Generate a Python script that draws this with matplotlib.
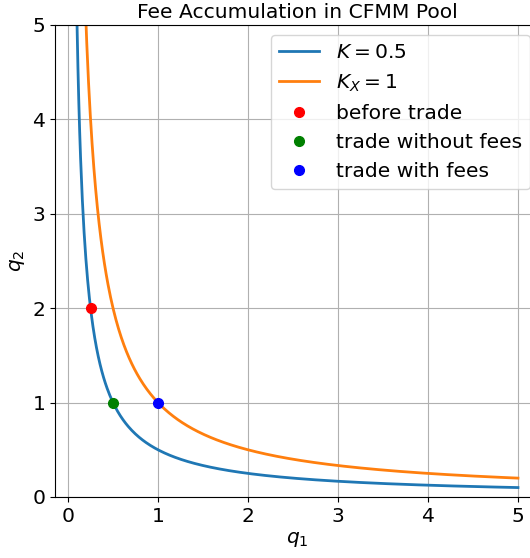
import numpy as np
import matplotlib
matplotlib.use("Agg")
import matplotlib.pyplot as plt

# data
K_values = [0.5, 1.0]
curve_labels = ["$K=0.5$", "$K_X=1$"]
curve_colors = ["#1f77b4", "#ff7f0e"]
q1_min, q1_max = 0.1, 5.0

point_q1 = [0.25, 0.5, 1.0]
point_q2 = [2.0, 1.0, 1.0]
point_labels = ["before trade", "trade without fees", "trade with fees"]
point_colors = ["red", "green", "blue"]

plt.rcParams["font.size"] = 14.6

fig = plt.figure(figsize=(5.30, 5.58), dpi=100)
W, H = 530, 558
ax = fig.add_axes([55 / W, 61 / H, 485 / W, 472 / H])

q1 = np.linspace(q1_min, q1_max, 500)
for K, lab, c in zip(K_values, curve_labels, curve_colors):
    ax.plot(q1, K / q1, color=c, lw=2, label=lab)

for x, y, lab, c in zip(point_q1, point_q2, point_labels, point_colors):
    ax.plot([x], [y], "o", color=c, label=lab, ms=7)

ax.set_ylim(0, 5)
ax.set_xticks([0, 1, 2, 3, 4, 5])
ax.set_yticks([0, 1, 2, 3, 4, 5])
ax.grid(True)
ax.set_xlabel("$q_1$", labelpad=3)
ax.set_ylabel("$q_2$")
ax.set_title("Fee Accumulation in CFMM Pool", fontsize=14.6, pad=5)
ax.legend(loc="upper right", fontsize=14.6)

fig.savefig("out.png", dpi=100)
